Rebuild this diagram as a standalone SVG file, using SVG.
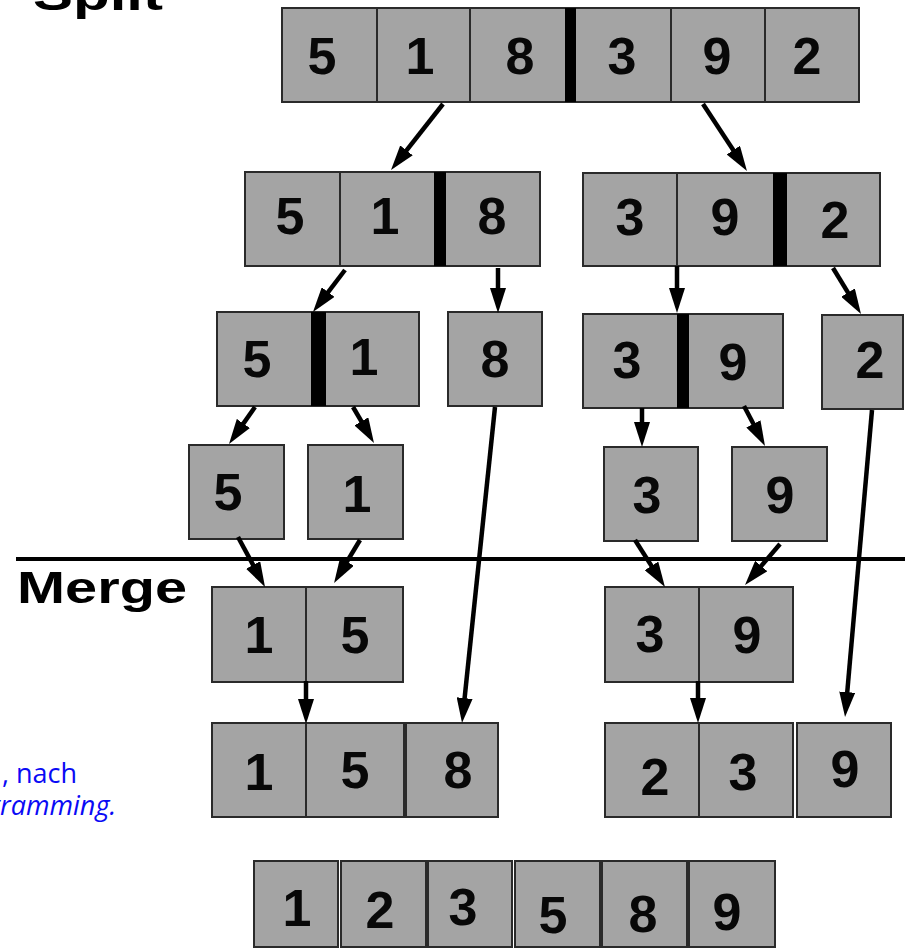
<svg xmlns="http://www.w3.org/2000/svg" width="905" height="951" viewBox="0 0 905 951">
  <style>
    .cell { fill: #a4a4a4; stroke: #2a2a2a; stroke-width: 2; }
    .div { stroke: #2a2a2a; stroke-width: 2; }
    .bar { fill: #000; }
    .num { font-family: "Liberation Sans", Arial, sans-serif; font-weight: bold; font-size: 52px; fill: #080808; text-anchor: middle; }
    .title { font-family: "Liberation Sans", Arial, sans-serif; font-weight: bold; font-size: 45px; fill: #000; }
    .note { font-family: "Open Sans", "Noto Sans", sans-serif; font-size: 27px; fill: #0a0af5; }
    .edge { stroke: #000; stroke-width: 4.5; fill: none; marker-end: url(#head); }
  </style>
  <defs>
    <marker id="head" markerUnits="userSpaceOnUse" markerWidth="25" markerHeight="16" refX="5" refY="8" orient="auto">
      <path d="M0,0 L25,8 L0,16 z" fill="#000"/>
    </marker>
  </defs>

  <rect width="905" height="951" fill="#fff"/>

  <!-- section titles and separator -->
  <text class="title" x="33" y="10" textLength="130" lengthAdjust="spacingAndGlyphs">Split</text>
  <line x1="16" y1="559" x2="905" y2="559" stroke="#000" stroke-width="4"/>
  <text class="title" x="17" y="603" textLength="170" lengthAdjust="spacingAndGlyphs">Merge</text>

  <!-- attribution fragments -->
  <text class="note" x="2" y="783">, nach</text>
  <text class="note" x="-14" y="815" font-style="italic">gramming.</text>

  <!-- split level 0 -->
  <g id="split0">
    <rect class="cell" x="282" y="8" width="577" height="94"/>
    <line class="div" x1="377" y1="8" x2="377" y2="102"/>
    <line class="div" x1="470" y1="8" x2="470" y2="102"/>
    <line class="div" x1="671" y1="8" x2="671" y2="102"/>
    <line class="div" x1="765" y1="8" x2="765" y2="102"/>
    <rect class="bar" x="565" y="8" width="11" height="94"/>
    <text class="num" x="322" y="74">5</text>
    <text class="num" x="420" y="74">1</text>
    <text class="num" x="520" y="74">8</text>
    <text class="num" x="622" y="74">3</text>
    <text class="num" x="717" y="74">9</text>
    <text class="num" x="807" y="74">2</text>
  </g>

  <!-- split level 1 -->
  <g id="split1-left">
    <rect class="cell" x="245" y="172" width="295" height="94"/>
    <line class="div" x1="340" y1="172" x2="340" y2="266"/>
    <rect class="bar" x="434" y="172" width="12" height="94"/>
    <text class="num" x="290" y="234">5</text>
    <text class="num" x="385" y="234">1</text>
    <text class="num" x="492" y="234">8</text>
  </g>
  <g id="split1-right">
    <rect class="cell" x="583" y="173" width="297" height="93"/>
    <line class="div" x1="677" y1="173" x2="677" y2="266"/>
    <rect class="bar" x="773" y="173" width="14" height="93"/>
    <text class="num" x="630" y="235">3</text>
    <text class="num" x="725" y="235">9</text>
    <text class="num" x="835" y="238">2</text>
  </g>

  <!-- split level 2 -->
  <g id="split2-51">
    <rect class="cell" x="217" y="312" width="202" height="94"/>
    <rect class="bar" x="311" y="312" width="15" height="94"/>
    <text class="num" x="257" y="377">5</text>
    <text class="num" x="364" y="375">1</text>
  </g>
  <g id="split2-8">
    <rect class="cell" x="448" y="312" width="94" height="94"/>
    <text class="num" x="495" y="377">8</text>
  </g>
  <g id="split2-39">
    <rect class="cell" x="583" y="314" width="200" height="94"/>
    <rect class="bar" x="677" y="314" width="12" height="94"/>
    <text class="num" x="627" y="378">3</text>
    <text class="num" x="733" y="380">9</text>
  </g>
  <g id="split2-2">
    <rect class="cell" x="822" y="315" width="81" height="94"/>
    <text class="num" x="870" y="378">2</text>
  </g>

  <!-- split level 3 -->
  <g id="leaf-5">
    <rect class="cell" x="189" y="445" width="95" height="94"/>
    <text class="num" x="228" y="510">5</text>
  </g>
  <g id="leaf-1">
    <rect class="cell" x="308" y="445" width="95" height="94"/>
    <text class="num" x="357" y="512">1</text>
  </g>
  <g id="leaf-3">
    <rect class="cell" x="604" y="447" width="94" height="94"/>
    <text class="num" x="647" y="513">3</text>
  </g>
  <g id="leaf-9">
    <rect class="cell" x="732" y="447" width="95" height="94"/>
    <text class="num" x="780" y="513">9</text>
  </g>

  <!-- merge level 1 -->
  <g id="merge1-15">
    <rect class="cell" x="212" y="587" width="191" height="95"/>
    <line class="div" x1="306" y1="587" x2="306" y2="682"/>
    <text class="num" x="259" y="653">1</text>
    <text class="num" x="355" y="653">5</text>
  </g>
  <g id="merge1-39">
    <rect class="cell" x="605" y="587" width="188" height="95"/>
    <line class="div" x1="699" y1="587" x2="699" y2="682"/>
    <text class="num" x="650" y="652">3</text>
    <text class="num" x="747" y="653">9</text>
  </g>

  <!-- merge level 2 -->
  <g id="merge2-158">
    <rect class="cell" x="212" y="723" width="192" height="94"/>
    <line class="div" x1="306" y1="723" x2="306" y2="817"/>
    <rect class="cell" x="406" y="723" width="92" height="94"/>
    <text class="num" x="259" y="790">1</text>
    <text class="num" x="355" y="788">5</text>
    <text class="num" x="458" y="788">8</text>
  </g>
  <g id="merge2-239">
    <rect class="cell" x="605" y="723" width="188" height="94"/>
    <line class="div" x1="699" y1="723" x2="699" y2="817"/>
    <rect class="cell" x="797" y="723" width="94" height="94"/>
    <text class="num" x="655" y="795">2</text>
    <text class="num" x="743" y="790">3</text>
    <text class="num" x="845" y="787">9</text>
  </g>

  <!-- sorted result -->
  <g id="result">
    <rect class="cell" x="254" y="861" width="84" height="86"/>
    <rect class="cell" x="341" y="861" width="85" height="86"/>
    <rect class="cell" x="428" y="861" width="84" height="86"/>
    <rect class="cell" x="515" y="861" width="85" height="86"/>
    <rect class="cell" x="602" y="861" width="85" height="86"/>
    <rect class="cell" x="689" y="861" width="86" height="86"/>
    <text class="num" x="297" y="926">1</text>
    <text class="num" x="380" y="928">2</text>
    <text class="num" x="463" y="925">3</text>
    <text class="num" x="553" y="933">5</text>
    <text class="num" x="643" y="932">8</text>
    <text class="num" x="727" y="930">9</text>
  </g>

  <!-- connectors -->
  <g id="connectors">
    <line class="edge" x1="443" y1="104" x2="403.4" y2="154.3"/>
    <line class="edge" x1="703" y1="104" x2="736" y2="154.3"/>
    <line class="edge" x1="345" y1="270" x2="325.1" y2="296.1"/>
    <line class="edge" x1="498" y1="268" x2="498" y2="293"/>
    <line class="edge" x1="677" y1="266" x2="677" y2="293"/>
    <line class="edge" x1="833" y1="268" x2="850.6" y2="296.9"/>
    <line class="edge" x1="255" y1="407" x2="240.5" y2="427.6"/>
    <line class="edge" x1="353" y1="407" x2="363.9" y2="425.7"/>
    <line class="edge" x1="495" y1="407" x2="464.1" y2="703.1"/>
    <line class="edge" x1="642" y1="408" x2="642" y2="427"/>
    <line class="edge" x1="744" y1="406" x2="755.7" y2="428.3"/>
    <line class="edge" x1="872" y1="410" x2="846.8" y2="697.1"/>
    <line class="edge" x1="238" y1="537" x2="255.5" y2="569.4"/>
    <line class="edge" x1="360" y1="540" x2="344.4" y2="565.9"/>
    <line class="edge" x1="635" y1="540" x2="654.2" y2="570.1"/>
    <line class="edge" x1="780" y1="544" x2="758" y2="569.8"/>
    <line class="edge" x1="306" y1="681" x2="306" y2="704"/>
    <line class="edge" x1="698" y1="681" x2="698" y2="703"/>
  </g>
</svg>
